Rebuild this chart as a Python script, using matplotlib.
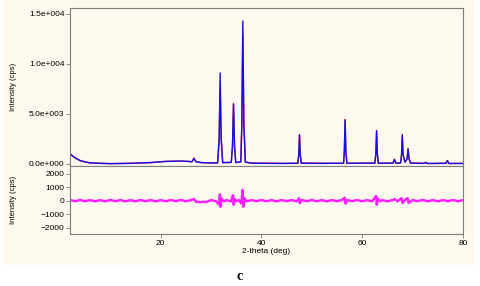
import matplotlib
matplotlib.use("Agg")
import matplotlib.pyplot as plt
from matplotlib.patches import Rectangle

# Rietveld-type pattern (2-theta in deg, intensity in cps)
two_theta = [2, 2.5, 3, 4, 5, 6, 8, 10, 14, 18, 21, 24, 25.5, 26.2, 26.6, 27.0, 28, 30,
             31.3, 31.6, 31.8, 32.0, 32.3, 34.0, 34.25, 34.45, 34.65, 34.9,
             35.9, 36.1, 36.3, 36.5, 36.8, 38, 44, 47.2, 47.4, 47.55, 47.7, 47.9,
             52, 56.3, 56.45, 56.6, 56.75, 56.95, 62.5, 62.7, 62.85, 63.0, 63.2,
             66.1, 66.4, 66.7, 67.6, 67.8, 67.95, 68.1, 68.5, 68.9, 69.1, 69.3, 69.6,
             72.3, 72.6, 72.9, 76.6, 76.9, 77.2, 80]
calc = [1000, 800, 600, 350, 200, 120, 60, 40, 60, 150, 250, 300, 250, 230, 550, 220, 150, 100,
        120, 2500, 9100, 2500, 150, 150, 1800, 6000, 1800, 150,
        200, 4000, 14300, 4000, 200, 80, 50, 80, 900, 2900, 900, 80,
        60, 80, 1300, 4400, 1300, 80, 80, 1000, 3300, 1000, 80,
        80, 450, 80, 100, 900, 2900, 900, 200, 500, 1500, 500, 80,
        60, 150, 60, 60, 330, 60, 50]
observed = [1080, 820, 640, 330, 220, 100, 80, 30, 80, 130, 270, 280, 270, 210, 600, 240, 130, 120,
            100, 2300, 7700, 2700, 130, 170, 1700, 6050, 1900, 130,
            220, 3800, 13000, 4200, 180, 100, 70, 60, 850, 2950, 950, 100,
            80, 60, 1250, 4450, 1350, 60, 100, 950, 3350, 1050, 60,
            100, 480, 60, 120, 850, 2950, 950, 180, 520, 1550, 480, 100,
            80, 170, 40, 80, 360, 40, 70]

# difference curve (obs - calc)
res_theta = [2, 3, 4, 5, 6, 7, 8, 9, 10, 11, 12, 13, 14, 15, 16, 17, 18, 19, 20, 21,
             22, 23, 24, 25, 26, 26.6, 27, 27.5, 28, 28.5, 29, 30, 31, 31.6, 31.75, 31.85,
             32.0, 32.5, 33, 34, 34.35, 34.5, 34.7, 35, 35.5, 36.0, 36.25, 36.4, 36.6, 37,
             38, 39, 40, 41, 42, 43, 44, 45, 46, 47, 47.45, 47.6, 48, 49, 50, 51, 52, 53,
             54, 55, 56, 56.5, 56.7, 57, 58, 59, 60, 61, 62, 62.75, 62.9, 63.05, 63.5, 64,
             65, 66, 66.4, 67, 67.8, 68.0, 68.5, 69.0, 69.2, 70, 71, 72, 73, 74, 75, 76,
             77, 78, 79, 80]
residual = [50, -40, 45, -35, 40, -45, 35, -40, 45, -35, 40, -45, 35, -40, 45, -35, 40, -45, 35, -40,
            45, -35, 50, -40, 35, 120, -80, -90, -110, -80, -100, 40, -45, -300, 450, -450,
            200, -60, 40, -45, 400, -300, 120, -40, 45, -200, 800, -450, 200, -50,
            40, -35, 45, -40, 35, -45, 40, -35, 45, -50, 180, -180, 40, -35, 45, -40, 35, -45,
            40, -35, 50, 220, -220, 40, -35, 45, -40, 35, -45, 350, -300, 180, -40, 35,
            -45, 40, 120, -45, 180, -180, 60, 180, -160, 40, -35, 45, -40, 35, -45, 40,
            -35, 45, -40, 35]

top_ticks = [0, 5000, 10000, 15000]
top_labels = ["0.0e+000", "5.0e+003", "1.0e+004", "1.5e+004"]
low_ticks = [-2000, -1000, 0, 1000, 2000]
x_ticks = [20, 40, 60, 80]

cream = "#fdf9ee"
frame = "#7f7f7f"
plt.rcParams["font.family"] = ["Liberation Sans", "DejaVu Sans"]

fig = plt.figure(figsize=(4.8, 2.86), dpi=100)
fig.patches.append(Rectangle((3 / 480, 1 - 265 / 286), 472 / 480, 265 / 286,
                             transform=fig.transFigure, facecolor=cream,
                             edgecolor="none", zorder=-10))

ax1 = fig.add_axes([70 / 480, 1 - 166 / 286, 393 / 480, 158 / 286])
ax2 = fig.add_axes([70 / 480, 1 - 234 / 286, 393 / 480, 68 / 286])

# top panel: observed (red) and calculated (blue)
ax1.plot(two_theta, observed, color="#ff2020", lw=1.0)
ax1.plot(two_theta, calc, color="#1010ee", lw=1.0)
ax1.set_xlim(2, 80)
ax1.set_ylim(-200, 15600)
ax1.set_yticks(top_ticks)
ax1.set_yticklabels(top_labels)
ax1.set_xticks([])

# bottom panel: difference
ax2.plot(res_theta, residual, color="#ff20ff", lw=1.8)
ax2.set_xlim(2, 80)
ax2.set_ylim(-2470, 2570)
ax2.set_yticks(low_ticks)
ax2.set_xticks(x_ticks)
ax2.set_xlabel("2-theta (deg)", fontsize=6, labelpad=1)

for ax in (ax1, ax2):
    ax.set_facecolor(cream)
    for s in ax.spines.values():
        s.set_color(frame)
        s.set_linewidth(0.8)
    ax.tick_params(axis="both", labelsize=6, length=3, width=0.6, color=frame, pad=1)
    ax.set_ylabel("Intensity (cps)", fontsize=5.5)
    ax.yaxis.set_label_coords(-0.135, 0.5)

fig.text(240 / 480, 1 - 276 / 286, "c", family="Liberation Serif", weight="bold",
         fontsize=10, ha="center", va="center")

fig.savefig("out.png", dpi=100, facecolor="white")
